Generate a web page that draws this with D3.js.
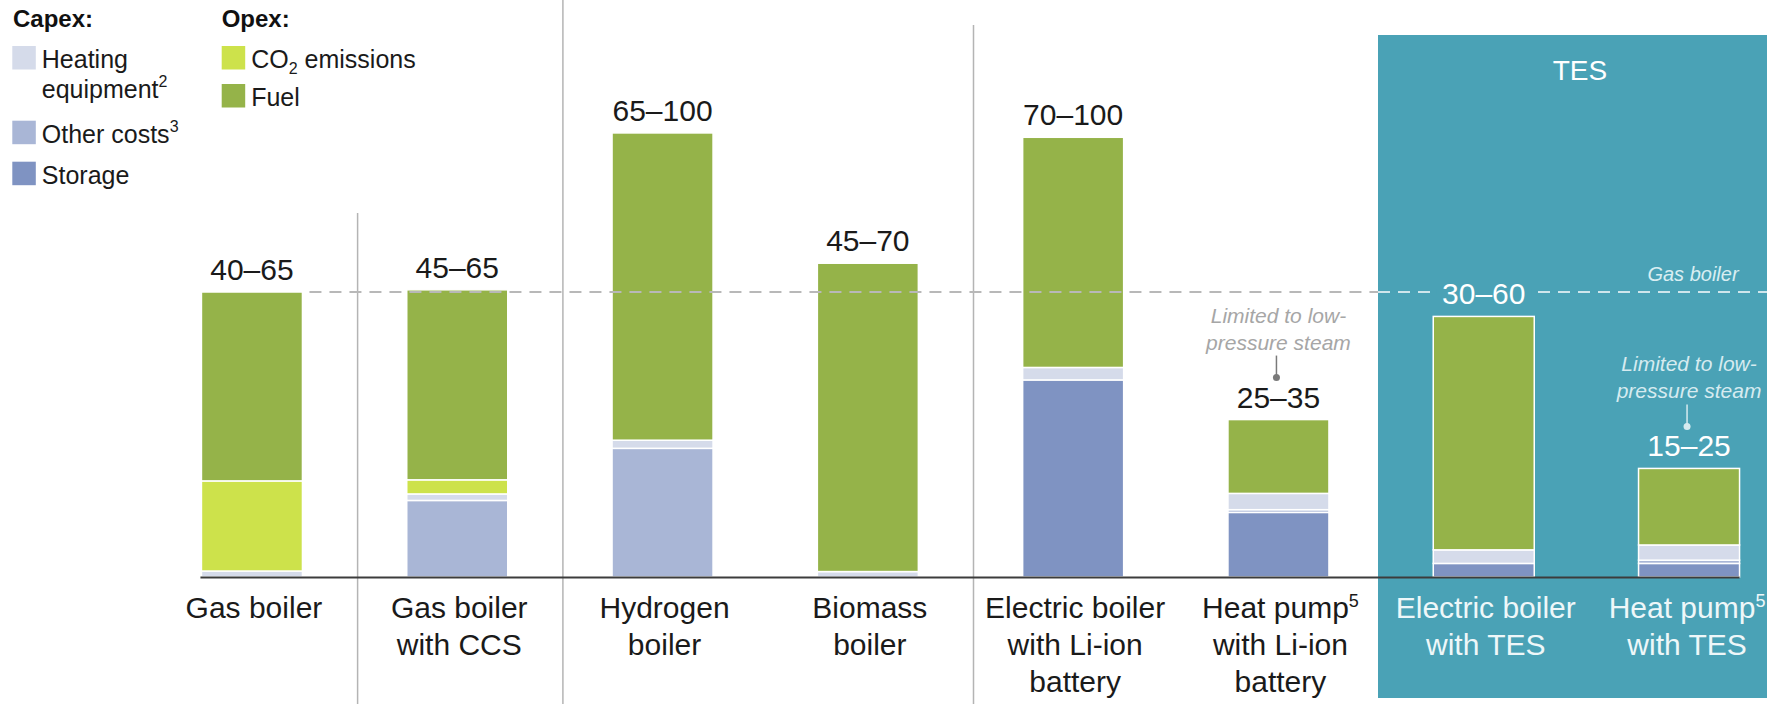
<!DOCTYPE html>
<html>
<head>
<meta charset="utf-8">
<script src="https://cdn.jsdelivr.net/npm/d3@7"></script>
<style>
  body { margin: 0; background: #fff; }
  text { font-family: "Liberation Sans", Arial, sans-serif; }
</style>
</head>
<body>
<svg id="visu" width="1767" height="704"></svg>
<script>
// categories and their printed labels
var categories = ["gas", "gasCcs", "hydrogen", "biomass", "elecLi", "hpLi", "elecTes", "hpTes"];
var catLines = [
  ["Gas boiler"],
  ["Gas boiler", "with CCS"],
  ["Hydrogen", "boiler"],
  ["Biomass", "boiler"],
  ["Electric boiler", "with Li-ion", "battery"],
  ["Heat pump^5", "with Li-ion", "battery"],
  ["Electric boiler", "with TES"],
  ["Heat pump^5", "with TES"]
];
var rangeLabels = ["40–65", "45–65", "65–100", "45–70", "70–100", "25–35", "30–60", "15–25"];

// segment values (same unit for all bars)
var storage          = [0,    0,    0,    0,    36.3, 11.9, 2.5,  2.5];
var otherCosts       = [0,    14.1, 23.7, 0,    0,    0.5,  0,    0.6];
var heatingEquipment = [1.1,  1.2,  1.5,  1.0,  2.3,  3.0,  2.5,  2.8];
var co2Emissions     = [16.6, 2.6,  0,    0,    0,    0,    0,    0];
var fuel             = [34.8, 35.0, 56.6, 56.8, 42.4, 13.6, 43.0, 14.1];
var gasBoilerRef = 52.5;

var tesCats = ["elecTes", "hpTes"];
var lowPressureCats = ["hpLi", "hpTes"];
var separatorsAfter = [0, 1, 3];
var separatorTops = [213, 0, 25];

var vis = d3.select("#visu"),
    WIDTH = 1767,
    HEIGHT = 704,
    BASE = 577;

var colors = {
  storage: "#7f93c2",
  otherCosts: "#a9b6d6",
  heatingEquipment: "#d5dbea",
  co2Emissions: "#cde24b",
  fuel: "#95b349"
};
var TES_COLOR = "#4aa2b6";

var keys = ["storage", "otherCosts", "heatingEquipment", "co2Emissions", "fuel"];
var table = categories.map(function(c, i) {
  return {
    cat: c,
    storage: storage[i],
    otherCosts: otherCosts[i],
    heatingEquipment: heatingEquipment[i],
    co2Emissions: co2Emissions[i],
    fuel: fuel[i]
  };
});

var xScale = d3.scaleBand()
  .domain(categories)
  .range([149.3, 149.3 + 8 * 205.3])
  .paddingInner(0.508)
  .paddingOuter(0.254);

var yScale = d3.scaleLinear()
  .domain([0, 100])
  .range([BASE, BASE - 542.86]);

var center = function(c) { return xScale(c) + xScale.bandwidth() / 2; };

// text with an optional super/subscript digit ("^5" or "_2")
var richText = function(t, line, small) {
  var m = line.match(/^([^\^_]*)([\^_])(\d)(.*)$/);
  if (!m) { t.text(line); return; }
  var up = m[2] === "^";
  t.append("tspan").text(m[1]);
  t.append("tspan")
    .attr("font-size", small)
    .attr("dy", up ? -11 : 6)
    .text(m[3]);
  if (m[4]) {
    t.append("tspan")
      .attr("dy", up ? 11 : -6)
      .text(m[4]);
  }
};

// TES panel
vis.append("rect")
  .attr("x", 1378).attr("y", 35)
  .attr("width", WIDTH - 1378).attr("height", 663)
  .attr("fill", TES_COLOR);

vis.append("text")
  .attr("x", 1580).attr("y", 80)
  .attr("text-anchor", "middle")
  .attr("font-size", 28)
  .attr("fill", "#ffffff")
  .text("TES");

// separators
separatorsAfter.forEach(function(i, k) {
  var xs = (center(categories[i]) + center(categories[i + 1])) / 2 + 3;
  vis.append("line")
    .attr("x1", xs).attr("x2", xs)
    .attr("y1", separatorTops[k]).attr("y2", HEIGHT)
    .attr("stroke", "#b4b4b4")
    .attr("stroke-width", 1.5);
});

// stacked bars
var series = d3.stack().keys(keys)(table);

vis.append("g")
  .selectAll("g")
  .data(series)
  .enter().append("g")
    .attr("fill", function(d) { return colors[d.key]; })
  .selectAll("rect")
  .data(function(d) { return d.filter(function(p) { return p[1] - p[0] > 0; }); })
  .enter().append("rect")
    .attr("x", function(d) { return xScale(d.data.cat); })
    .attr("y", function(d) { return yScale(d[1]); })
    .attr("width", xScale.bandwidth())
    .attr("height", function(d) { return yScale(d[0]) - yScale(d[1]); })
    .attr("stroke", "#ffffff")
    .attr("stroke-width", 1.5);

// baseline
vis.append("line")
  .attr("x1", xScale(categories[0]) - 1)
  .attr("x2", xScale(categories[7]) + xScale.bandwidth())
  .attr("y1", BASE + 0.5).attr("y2", BASE + 0.5)
  .attr("stroke", "#3c3c3c")
  .attr("stroke-width", 2);

// gas boiler reference line
var refY = yScale(gasBoilerRef);
vis.append("line")
  .attr("x1", xScale(categories[0]) + xScale.bandwidth() + 7)
  .attr("x2", 1378)
  .attr("y1", refY).attr("y2", refY)
  .attr("stroke", "#b8b8b8")
  .attr("stroke-width", 2)
  .attr("stroke-dasharray", "12,8");
vis.append("line")
  .attr("x1", 1378).attr("x2", WIDTH)
  .attr("y1", refY).attr("y2", refY)
  .attr("stroke", "#cfe6ec")
  .attr("stroke-width", 2)
  .attr("stroke-dasharray", "12,8");
vis.append("text")
  .attr("x", 1693).attr("y", refY - 11)
  .attr("text-anchor", "middle")
  .attr("font-size", 20)
  .attr("font-style", "italic")
  .attr("fill", "#d9eef2")
  .text("Gas boiler");

// range labels above bars
categories.forEach(function(c, i) {
  var total = storage[i] + otherCosts[i] + heatingEquipment[i] + co2Emissions[i] + fuel[i];
  var isTes = tesCats.indexOf(c) >= 0;
  var t = vis.append("text")
    .attr("x", center(c))
    .attr("y", yScale(total) - 12)
    .attr("text-anchor", "middle")
    .attr("font-size", 30)
    .attr("fill", isTes ? "#ffffff" : "#1a1a1a")
    .text(rangeLabels[i]);
  if (isTes && Math.abs(yScale(total) - 12 - refY) < 30) {
    var bb = t.node().getBBox();
    vis.insert("rect", function() { return t.node(); })
      .attr("x", bb.x - 6).attr("y", refY - 3)
      .attr("width", bb.width + 12).attr("height", 6)
      .attr("fill", TES_COLOR);
  }
});

// "limited to low-pressure steam" notes
lowPressureCats.forEach(function(c) {
  var i = categories.indexOf(c);
  var total = storage[i] + otherCosts[i] + heatingEquipment[i] + co2Emissions[i] + fuel[i];
  var isTes = tesCats.indexOf(c) >= 0;
  var col = isTes ? "#d6ebf0" : "#a6a6a6";
  var top = yScale(total) - 12 - 30;
  var cx = center(c) - 2;
  vis.append("line")
    .attr("x1", cx).attr("x2", cx)
    .attr("y1", top - 22).attr("y2", top)
    .attr("stroke", isTes ? "#d6ebf0" : "#7a7a7a")
    .attr("stroke-width", 1.5);
  vis.append("circle")
    .attr("cx", cx).attr("cy", top)
    .attr("r", 3.5)
    .attr("fill", isTes ? "#d6ebf0" : "#7a7a7a");
  ["Limited to low-", "pressure steam"].forEach(function(s, k) {
    vis.append("text")
      .attr("x", cx + 2)
      .attr("y", top - 55 + k * 27)
      .attr("text-anchor", "middle")
      .attr("font-size", 21)
      .attr("font-style", "italic")
      .attr("fill", col)
      .text(s);
  });
});

// category labels, one text per line
categories.forEach(function(c, i) {
  var isTes = tesCats.indexOf(c) >= 0;
  var cx = center(c) + 2;
  if (c === "hpTes") cx -= 4;
  catLines[i].forEach(function(line, k) {
    var t = vis.append("text")
      .attr("x", cx)
      .attr("y", 618 + k * 37)
      .attr("text-anchor", "middle")
      .attr("font-size", 30)
      .attr("fill", isTes ? "#eef7f9" : "#1a1a1a");
    richText(t, line, 18);
  });
});

// legend
var legendHeads = [
  { label: "Capex:", x: 13 },
  { label: "Opex:", x: 221.7 }
];
var legendItems = [
  { key: "heatingEquipment", x: 12.3, y: 46, lines: ["Heating", "equipment^2"] },
  { key: "otherCosts", x: 12.3, y: 120.7, lines: ["Other costs^3"] },
  { key: "storage", x: 12.3, y: 161.7, lines: ["Storage"] },
  { key: "co2Emissions", x: 221.7, y: 46, lines: ["CO_2 emissions"] },
  { key: "fuel", x: 221.7, y: 84, lines: ["Fuel"] }
];

legendHeads.forEach(function(h) {
  vis.append("text")
    .attr("x", h.x).attr("y", 27)
    .attr("font-size", 24)
    .attr("font-weight", "bold")
    .attr("fill", "#111")
    .text(h.label);
});

legendItems.forEach(function(it) {
  vis.append("rect")
    .attr("x", it.x).attr("y", it.y)
    .attr("width", 23.5).attr("height", 23.5)
    .attr("fill", colors[it.key]);
  it.lines.forEach(function(line, k) {
    var t = vis.append("text")
      .attr("x", it.x + 29.5)
      .attr("y", it.y + 22 + k * 30)
      .attr("font-size", 25)
      .attr("fill", "#1a1a1a");
    richText(t, line, 16);
  });
});
</script>
</body>
</html>
